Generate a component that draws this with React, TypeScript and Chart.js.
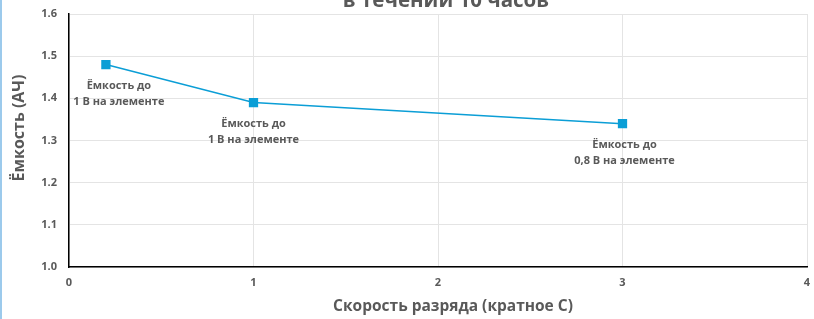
import React, { useEffect, useRef } from "react";
import { Chart, registerables } from "chart.js";

Chart.register(...registerables);

const titleText = "в течении 10 часов";
const xAxisTitle = "Скорость разряда (кратное C)";
const yAxisTitle = "Ёмкость (АЧ)";
const rates = [0.2, 1, 3];
const capacities = [1.48, 1.39, 1.34];
const pointLabels = [
  ["Ёмкость до", "1 В на элементе"],
  ["Ёмкость до", "1 В на элементе"],
  ["Ёмкость до", "0,8 В на элементе"],
];
const labelOffsetX = [13, 0, 2];

const FONT = "'Open Sans', 'Noto Sans', sans-serif";
const TEXT = "#595959";
const BLUE = "#0b9ed6";

const textPlugin = {
  id: "customText",
  afterDatasetsDraw(chart: any) {
    const ctx = chart.ctx;
    ctx.save();
    ctx.fillStyle = TEXT;
    ctx.textAlign = "center";
    ctx.font = `bold 20.5px ${FONT}`;
    ctx.textBaseline = "alphabetic";
    ctx.fillText(titleText, 446, 7);
    ctx.font = `bold 15.5px ${FONT}`;
    ctx.textBaseline = "middle";
    ctx.fillText(xAxisTitle, 453, 307);
    ctx.save();
    ctx.translate(19, 128);
    ctx.rotate(-Math.PI / 2);
    ctx.font = `bold 16px ${FONT}`;
    ctx.fillText(yAxisTitle, 0, 0);
    ctx.restore();
    const meta = chart.getDatasetMeta(0);
    ctx.font = `bold 11px ${FONT}`;
    meta.data.forEach((pt: any, i: number) => {
      const lines = pointLabels[i];
      lines.forEach((ln: string, j: number) => {
        ctx.fillText(ln, pt.x + labelOffsetX[i], pt.y + 21 + j * 16);
      });
    });
    ctx.restore();
  },
};

export default function App() {
  const ref = useRef<HTMLCanvasElement>(null);
  useEffect(() => {
    document.body.style.margin = "0";
    const chart = new Chart(ref.current!, {
      type: "scatter",
      data: {
        datasets: [
          {
            data: rates.map((x, i) => ({ x, y: capacities[i] })),
            showLine: true,
            borderColor: BLUE,
            backgroundColor: BLUE,
            borderWidth: 1.5,
            pointStyle: "rect",
            pointRadius: 5.5,
            pointHoverRadius: 5.5,
          },
        ],
      },
      options: {
        animation: false,
        responsive: false,
        maintainAspectRatio: false,
        layout: { padding: { left: 0, top: 14, right: 5, bottom: 0 } },
        plugins: { legend: { display: false }, tooltip: { enabled: false }, title: { display: false } },
        scales: {
          x: {
            type: "linear",
            min: 0,
            max: 4,
            ticks: {
              stepSize: 1,
              color: TEXT,
              font: { family: FONT, size: 11, weight: "bold" },
              padding: 9,
            },
            grid: { color: "#e4e4e4", lineWidth: 1, drawTicks: false },
            border: { color: "#000000", width: 1.5 },
            afterFit: (s: any) => {
              s.height = 52;
              s.paddingLeft = 0;
              s.paddingRight = 0;
            },
          },
          y: {
            min: 1.0,
            max: 1.6,
            ticks: {
              stepSize: 0.1,
              color: TEXT,
              font: { family: FONT, size: 11, weight: "bold" },
              padding: 12,
              callback: (v: any) => Number(v).toFixed(1),
            },
            grid: { color: "#e4e4e4", lineWidth: 1, drawTicks: false },
            border: { color: "#000000", width: 1.5 },
            afterFit: (s: any) => {
              s.width = 69;
              s.paddingTop = 0;
              s.paddingBottom = 0;
            },
          },
        },
      },
      plugins: [textPlugin],
    });
    return () => chart.destroy();
  }, []);
  return (
    <div style={{ width: 814, height: 319, position: "relative", overflow: "hidden", background: "#fff" }}>
      <canvas ref={ref} width={814} height={319} style={{ display: "block" }} />
      <div style={{ position: "absolute", left: 0, top: 0, width: 2, height: 319, background: "#9ccaec" }} />
    </div>
  );
}
